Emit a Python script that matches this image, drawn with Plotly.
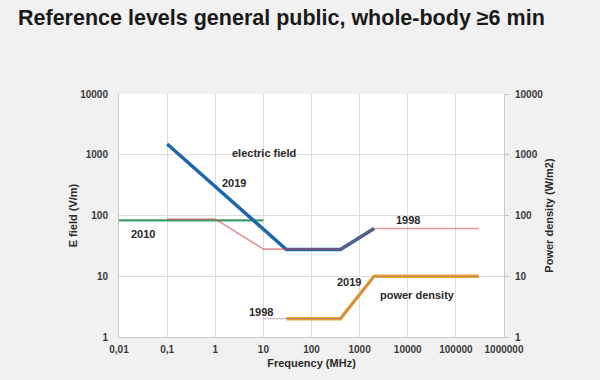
import math
import plotly.graph_objects as go

# ---- data ----
freq_e_2010 = [0.01, 10]
e_2010 = [83, 83]

freq_e_2019 = [0.1, 30, 400, 2000]
e_2019 = [1500, 27.5, 27.5, 61]

freq_e_1998 = [0.1, 1, 10, 400, 2000, 300000]
e_1998 = [87, 87, 28, 28, 61, 61]

freq_pd_2019 = [30, 400, 2000, 300000]
pd_2019 = [2, 2, 10, 10]

freq_pd_1998 = [10, 400, 2000, 300000]
pd_1998 = [2, 2, 10, 10]

x_tickvals = [0.01, 0.1, 1, 10, 100, 1000, 10000, 100000, 1000000]
x_ticktext = ["0,01", "0,1", "1", "10", "100", "1000", "10000", "100000", "1000000"]
y_tickvals = [1, 10, 100, 1000, 10000]
y_ticktext = ["1", "10", "100", "1000", "10000"]

labels = [
    ("electric field", 10.5, 1050),
    ("2019", 2.5, 345),
    ("2010", 0.032, 50),
    ("1998", 10000, 83),
]
labels_pd = [
    ("2019", 615, 7.9),
    ("power density", 16000, 5.0),
    ("1998", 9.1, 2.57),
]

FONT = "Liberation Sans, Arial, sans-serif"

fig = go.Figure()

fig.add_trace(go.Scatter(x=freq_e_2010, y=e_2010, mode="lines",
                         line=dict(color="#3c9c6c", width=2.2), yaxis="y"))
fig.add_trace(go.Scatter(x=freq_e_2019, y=e_2019, mode="lines",
                         line=dict(color="#1f67ad", width=3.5), yaxis="y"))
fig.add_trace(go.Scatter(x=freq_e_1998, y=e_1998, mode="lines",
                         line=dict(color="rgba(205,70,70,0.55)", width=1.6), yaxis="y"))
fig.add_trace(go.Scatter(x=freq_pd_2019, y=pd_2019, mode="lines",
                         line=dict(color="#eaa53a", width=3.5), yaxis="y2"))
fig.add_trace(go.Scatter(x=freq_pd_1998, y=pd_1998, mode="lines",
                         line=dict(color="rgba(110,70,130,0.35)", width=1.2), yaxis="y2"))

tickfont = dict(family=FONT, size=10, color="#3a3a3a")
titlefont = dict(family=FONT, size=11, color="#2a2a2a")

for text, x, y in labels:
    fig.add_annotation(x=math.log10(x), y=math.log10(y),
                       xref="x", yref="y", text="<b>%s</b>" % text, showarrow=False,
                       font=dict(family=FONT, size=11, color="#2a2a2a"))
for text, x, y in labels_pd:
    fig.add_annotation(x=math.log10(x), y=math.log10(y),
                       xref="x", yref="y2", text="<b>%s</b>" % text, showarrow=False,
                       font=dict(family=FONT, size=11, color="#2a2a2a"))

bold = lambda lst: ["<b>%s</b>" % t for t in lst]

fig.update_layout(
    width=600, height=380,
    margin=dict(l=119, r=96, t=94, b=43, autoexpand=False),
    paper_bgcolor="#f1f1f1",
    plot_bgcolor="#ffffff",
    showlegend=False,
    title=dict(text="<b>Reference levels general public, whole-body ≥6 min</b>",
               x=0.03, xanchor="left", y=0.955, yanchor="middle",
               font=dict(family=FONT, size=21.5, color="#1a1a1a")),
    xaxis=dict(type="log", range=[-2, 6], tickvals=x_tickvals, ticktext=bold(x_ticktext),
               showgrid=True, gridcolor="#dcdcdc", gridwidth=1,
               showline=True, linecolor="#c8c8c8", linewidth=1,
               ticks="", tickfont=tickfont, ticklabelstandoff=3,
               title=dict(text="<b>Frequency (MHz)</b>", font=titlefont, standoff=5),
               zeroline=False),
    yaxis=dict(type="log", range=[0, 4], tickvals=y_tickvals, ticktext=bold(y_ticktext),
               showgrid=True, gridcolor="#dcdcdc", gridwidth=1,
               showline=True, linecolor="#c8c8c8", linewidth=1,
               ticks="", tickfont=tickfont, ticklabelstandoff=8,
               title=dict(text="<b>E field (V/m)</b>", font=titlefont, standoff=0),
               zeroline=False),
    yaxis2=dict(type="log", range=[0, 4], tickvals=y_tickvals, ticktext=bold(y_ticktext),
                overlaying="y", side="right", showgrid=False,
                showline=True, linecolor="#c8c8c8", linewidth=1,
                ticks="outside", ticklen=4, tickcolor="#c8c8c8", tickfont=tickfont,
                ticklabelstandoff=4,
                title=dict(text="<b>Power density (W/m2)</b>", font=titlefont, standoff=3),
                zeroline=False),
)

fig.write_html("out.html", config={"displayModeBar": False},
               post_script="document.body.style.margin='0';")
